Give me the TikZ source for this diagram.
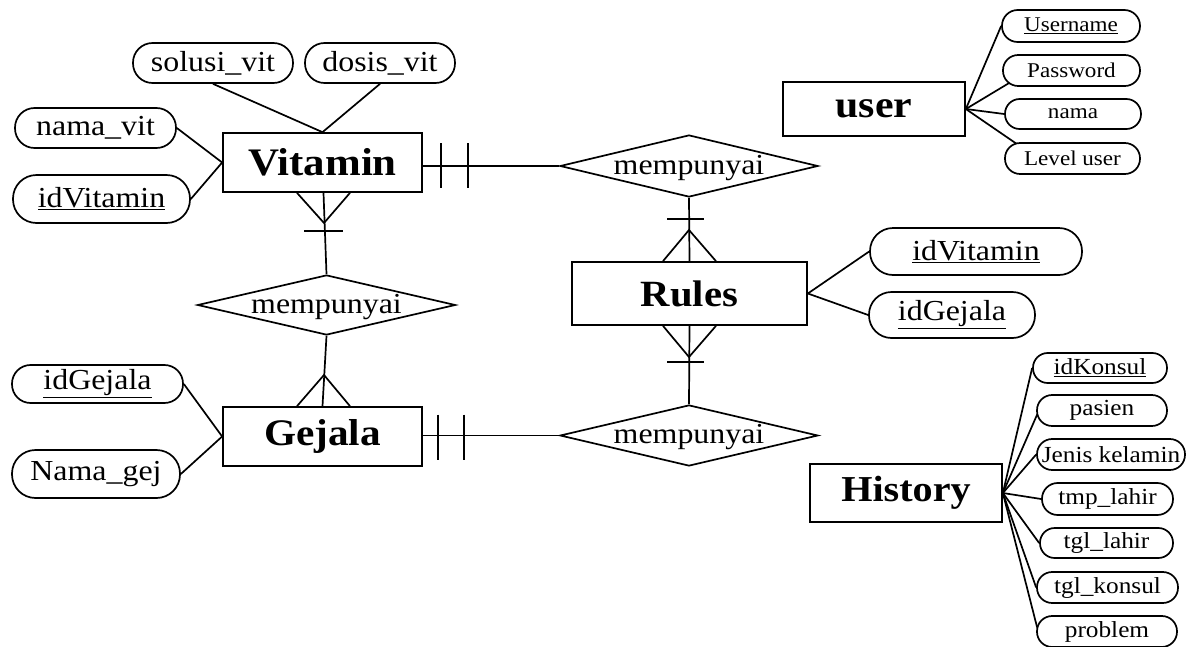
\documentclass[tikz,border=0pt]{standalone}
\usepackage{fontspec}
\setmainfont{Liberation Serif}[FakeStretch=1.1]
\usetikzlibrary{shapes.geometric,calc}
\newcommand\fsz[1]{\fontsize{#1}{#1}\selectfont}
\begin{document}
\begin{tikzpicture}[x=1pt,y=-1pt, line width=1.7pt,
  ent/.style 2 args={draw, inner sep=0pt, minimum width=#1pt, minimum height=#2pt},
  attr/.style 2 args={draw, inner sep=0pt, minimum width=#1pt, minimum height=#2pt, rounded corners=#2*0.49pt},
  rel/.style={draw, diamond, inner sep=0pt, minimum width=258pt, minimum height=62pt},
  reltext/.style={inner sep=0pt, font=\fsz{29}},
  bigattr/.style={font=\fsz{29}},
  uattr/.style={font=\fsz{21}},
  hattr/.style={font=\fsz{23}}]
\path[use as bounding box] (0,0) rectangle (1187,646);

% entities
\node[ent={199}{59}, font=\bfseries\fsz{39}] (Vitamin) at (322.5,162.5) {Vitamin};
\node[ent={235}{63}, font=\bfseries\fsz{37}] (Rules) at (689.5,293.5) {Rules};
\node[ent={199}{59}, font=\bfseries\fsz{37.5}] (Gejala) at (322.5,436.5) {Gejala};
\node[ent={182}{54}, font=\bfseries\fsz{38}] (user) at (874,109) {user};
\node[ent={192}{58}, font=\bfseries\fsz{36.5}] (History) at (906,493) {History};

% relationships
\node[rel] (R1) at (689,166) {};
\node[reltext] (R1t) at ($(R1)+(0,2)$) {mempunyai};
\node[rel, minimum height=60pt] (R2) at (326.5,305) {};
\node[reltext] (R2t) at ($(R2)+(0,2)$) {mempunyai};
\node[rel, minimum height=61pt] (R3) at (689,435.5) {};
\node[reltext] (R3t) at ($(R3)+(0,2)$) {mempunyai};

% Vitamin attributes
\node[attr={160}{40}, bigattr] (solusi) at (213,63) {solusi\_vit};
\node[attr={150}{40}, bigattr] (dosis) at (380,63) {dosis\_vit};
\node[attr={161}{40}, bigattr] (namavit) at (95.5,128) {nama\_vit};
\node[attr={177}{48}, bigattr] (idvit) at (101.5,199) {\underline{idVitamin}};
% Gejala attributes
\node[attr={171}{38}, bigattr] (idgej) at (97.5,384) {\underline{idGejala}};
\node[attr={168}{48}, bigattr] (namagej) at (96,474) {Nama\_gej};
% Rules attributes
\node[attr={212}{47}, bigattr] (ridvit) at (976,251.5) {\underline{idVitamin}};
\node[attr={166}{46}, bigattr] (ridgej) at (952,315) {\underline{idGejala}};
% user attributes
\node[attr={138}{32}, uattr] (uname) at (1071,26) {\underline{Username}};
\node[attr={137}{31}, uattr] (upass) at (1071.5,70.5) {Password};
\node[attr={136}{30}, uattr] (unama) at (1073,114) {nama};
\node[attr={135}{31}, uattr] (ulevel) at (1072.5,158.5) {Level user};
% History attributes
\node[attr={134}{30}, hattr] (hid) at (1100,368) {\underline{idKonsul}};
\node[attr={130}{31}, hattr] (hpas) at (1102,410.5) {pasien};
\node[attr={148}{31}, hattr] (hjk) at (1111,454.5) {Jenis kelamin};
\node[attr={131}{32}, hattr] (htmp) at (1107.5,499) {tmp\_lahir};
\node[attr={133}{30}, hattr] (htgl) at (1106.5,543) {tgl\_lahir};
\node[attr={141}{31}, hattr] (hkon) at (1107.5,587.5) {tgl\_konsul};
\node[attr={140}{31}, hattr] (hprob) at (1107,631.5) {problem};

% attribute connectors
\draw (solusi.south) -- (Vitamin.north);
\draw (dosis.south) -- (Vitamin.north);
\draw (namavit.east) -- (Vitamin.west);
\draw (idvit.east) -- (Vitamin.west);
\draw (idgej.east) -- (Gejala.west);
\draw (namagej.east) -- (Gejala.west);
\draw (Rules.east) -- (ridvit.west);
\draw (Rules.east) -- (ridgej.west);
\draw (user.east) -- (uname.west);
\draw (user.east) -- ($(upass.west)+(7,12.5)$);
\draw (user.east) -- (unama.west);
\draw (user.east) -- ($(ulevel.west)+(12,-15)$);
\draw (History.east) -- (hid.west);
\draw (History.east) -- ($(hpas.west)+(1,4)$);
\draw (History.east) -- (hjk.west);
\draw (History.east) -- (htmp.west);
\draw (History.east) -- (htgl.west);
\draw (History.east) -- (hkon.west);
\draw (History.east) -- ($(hprob.west)+(1,-4)$);

% Vitamin -- R1 (one and only one)
\draw (Vitamin.east |- R1.west) -- (R1.west);
\draw ($(Vitamin.east |- R1.west)+(18,-23)$) -- ++(0,45);
\draw ($(Vitamin.east |- R1.west)+(45,-23)$) -- ++(0,45);

% Vitamin -- R2 (one or many)
\coordinate (VcA) at (324,223);
\draw ($(Vitamin.south)+(1,0)$) -- (R2.north);
\draw ($(Vitamin.south)+(-25.5,0)$) -- (VcA) -- ($(Vitamin.south)+(27.5,0)$);
\draw ($(VcA)+(-20,8)$) -- ++(39,0);

% R2 -- Gejala (many)
\coordinate (GcA) at (324,375);
\draw (R2.south) -- (Gejala.north);
\draw ($(Gejala.north)+(-25.5,0)$) -- (GcA) -- ($(Gejala.north)+(27.5,0)$);

% R1 -- Rules (one or many)
\coordinate (RtA) at (689,230);
\draw (R1.south) -- (Rules.north);
\draw ($(Rules.north)+(-26.5,0)$) -- (RtA) -- ($(Rules.north)+(26.5,0)$);
\draw ($(RtA)+(-22,-11)$) -- ++(37,0);

% Rules -- R3 (one or many)
\coordinate (RbA) at (689,357);
\draw (Rules.south) -- (R3.north);
\draw ($(Rules.south)+(-26.5,0)$) -- (RbA) -- ($(Rules.south)+(26.5,0)$);
\draw ($(RbA)+(-22,5)$) -- ++(37,0);

% Gejala -- R3 (one and only one)
\draw (Gejala.east |- R3.west) -- (R3.west);
\draw ($(Gejala.east |- R3.west)+(15,-21)$) -- ++(0,45);
\draw ($(Gejala.east |- R3.west)+(41,-21)$) -- ++(0,45);
\end{tikzpicture}
\end{document}
